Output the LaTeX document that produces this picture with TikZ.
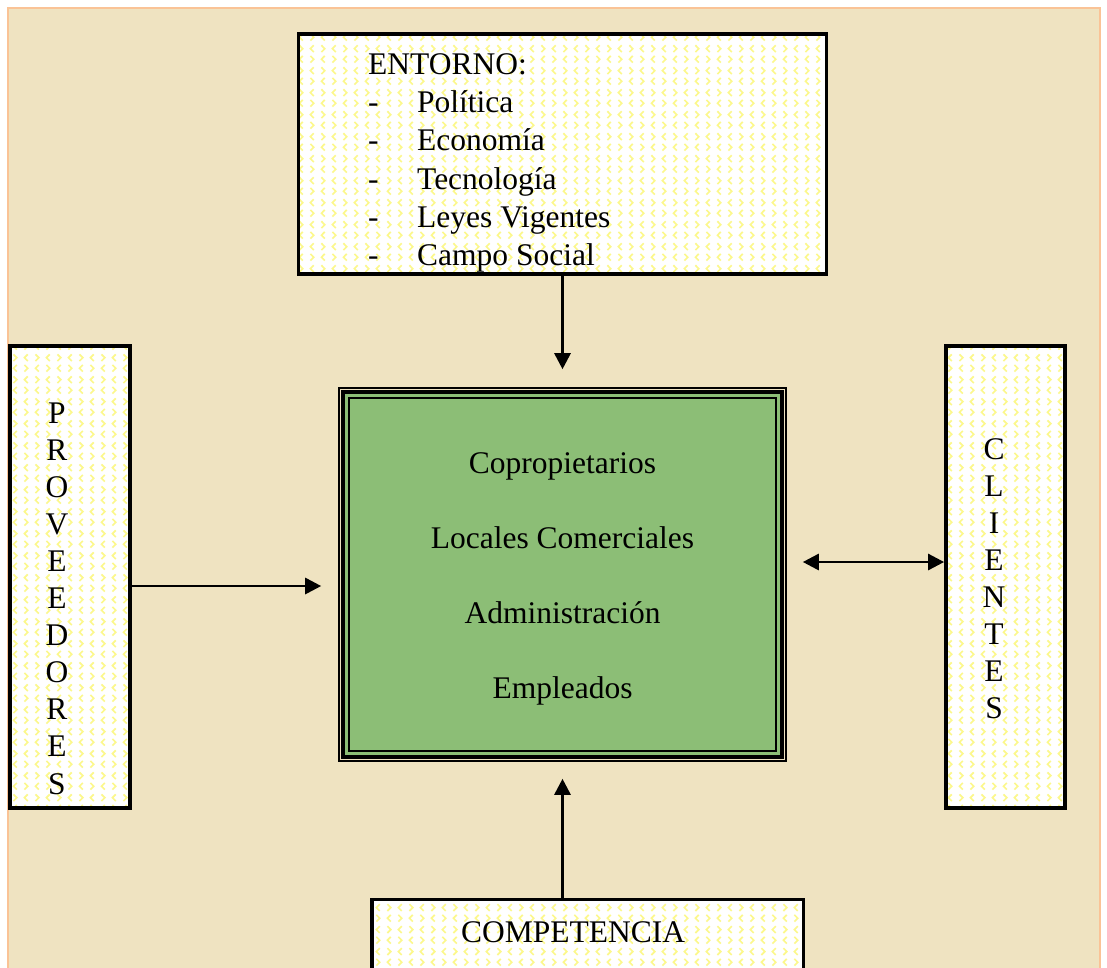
\documentclass[tikz,border=0pt]{standalone}
\usepackage{fontspec}
\setmainfont{Liberation Serif}
\usetikzlibrary{arrows.meta,patterns.meta}
\definecolor{parch}{RGB}{239,227,193}
\definecolor{pborder}{RGB}{250,195,150}
\definecolor{leaf}{RGB}{140,190,118}
\definecolor{chevy}{RGB}{252,248,140}
\tikzdeclarepattern{
  name=chev,
  type=uncolored,
  bounding box={(0pt,0pt) and (22pt,22pt)},
  tile size={(22pt,22pt)},
  code={
    \tikzset{x=1pt,y=1pt}
    \draw[line width=1.7pt] (2.5,2.5) -- (6,6) -- (2.5,9.5);
    \draw[line width=1.7pt] (17.5,2.5) -- (14,6) -- (17.5,9.5);
    \draw[line width=1.7pt] (6,13.5) -- (2.5,17) -- (6,20.5);
    \draw[line width=1.7pt] (14,13.5) -- (17.5,17) -- (14,20.5);
  }
}
\begin{document}
\begin{tikzpicture}[x=1pt,y=-1pt,
  txt/.style={font=\fontsize{31.5}{37.1}\selectfont, inner sep=0pt},
  listtxt/.style={font=\fontsize{31.5}{38.3}\selectfont, inner sep=0pt},
  patbox/.style={draw=black, line width=3.8pt, preaction={fill=white},
    pattern=chev, pattern color=chevy, inner sep=0pt},
  arr/.style={line width=2.8pt, -{Triangle[length=16pt,width=16pt]}},
  darr/.style={line width=2.8pt, {Triangle[length=16pt,width=16pt]}-{Triangle[length=16pt,width=16pt]}}]
\useasboundingbox (0,0) rectangle (1107,967);
\clip (0,0) rectangle (1107,967);
\fill[white] (0,0) rectangle (1107,967);
\fill[parch] (8,8) rectangle (1100,1010);
\draw[pborder, line width=2pt] (8,8) rectangle (1100,1010);

% boxes
\node[patbox, minimum width=528, minimum height=239.5] (ent) at (562.5,154) {};
\node[patbox, minimum width=120, minimum height=462] (prov) at (70,577) {};
\node[patbox, minimum width=119, minimum height=462] (cli) at (1005.5,577) {};
\node[patbox, minimum width=431.5, minimum height=141] (comp) at (587.75,970) {};

% central box
\node[draw=black, line width=1.6pt, fill=parch, minimum width=447, minimum height=373, inner sep=0pt] (core) at (562.5,574.5) {};
\draw[line width=4pt, fill=leaf] ([shift={(5,5)}]core.north west) rectangle ([shift={(-5,-5)}]core.south east);
\draw[line width=2pt] ([shift={(11,11)}]core.north west) rectangle ([shift={(-11,-11)}]core.south east);

% texts
\node[listtxt, anchor=base west] (entl) at (368,74.3) {\begin{tabular}[t]{@{}p{49pt}@{}l@{}}
\multicolumn{2}{@{}l@{}}{ENTORNO:}\\
-&Política\\
-&Economía\\
-&Tecnología\\
-&Leyes Vigentes\\
-&Campo Social
\end{tabular}};
\node[txt, anchor=base] (provl) at (57,423) {\begin{tabular}[t]{@{}c@{}}P\\R\\O\\V\\E\\E\\D\\O\\R\\E\\S\end{tabular}};
\node[txt, anchor=base] (clil) at (994,459) {\begin{tabular}[t]{@{}c@{}}C\\L\\I\\E\\N\\T\\E\\S\end{tabular}};
\node[txt, anchor=base] (compl) at (573,942) {COMPETENCIA};
\node[txt, anchor=base] (c1) at (562.5,473) {Copropietarios};
\node[txt, anchor=base] (c2) at (562.5,548) {Locales Comerciales};
\node[txt, anchor=base] (c3) at (562.5,623) {Administración};
\node[txt, anchor=base] (c4) at (562.5,698) {Empleados};

% connectors
\coordinate (ly) at (0,586);
\coordinate (ry) at (0,562);
\draw[arr, shorten >=18pt] (ent.south) -- (core.north);
\draw[arr, shorten >=17pt] (prov.east |- ly) -- (core.west |- ly);
\draw[darr, shorten <=16pt] (core.east |- ry) -- (cli.west |- ry);
\draw[arr, shorten >=17pt] (comp.north -| core.south) -- (core.south);
\end{tikzpicture}
\end{document}
